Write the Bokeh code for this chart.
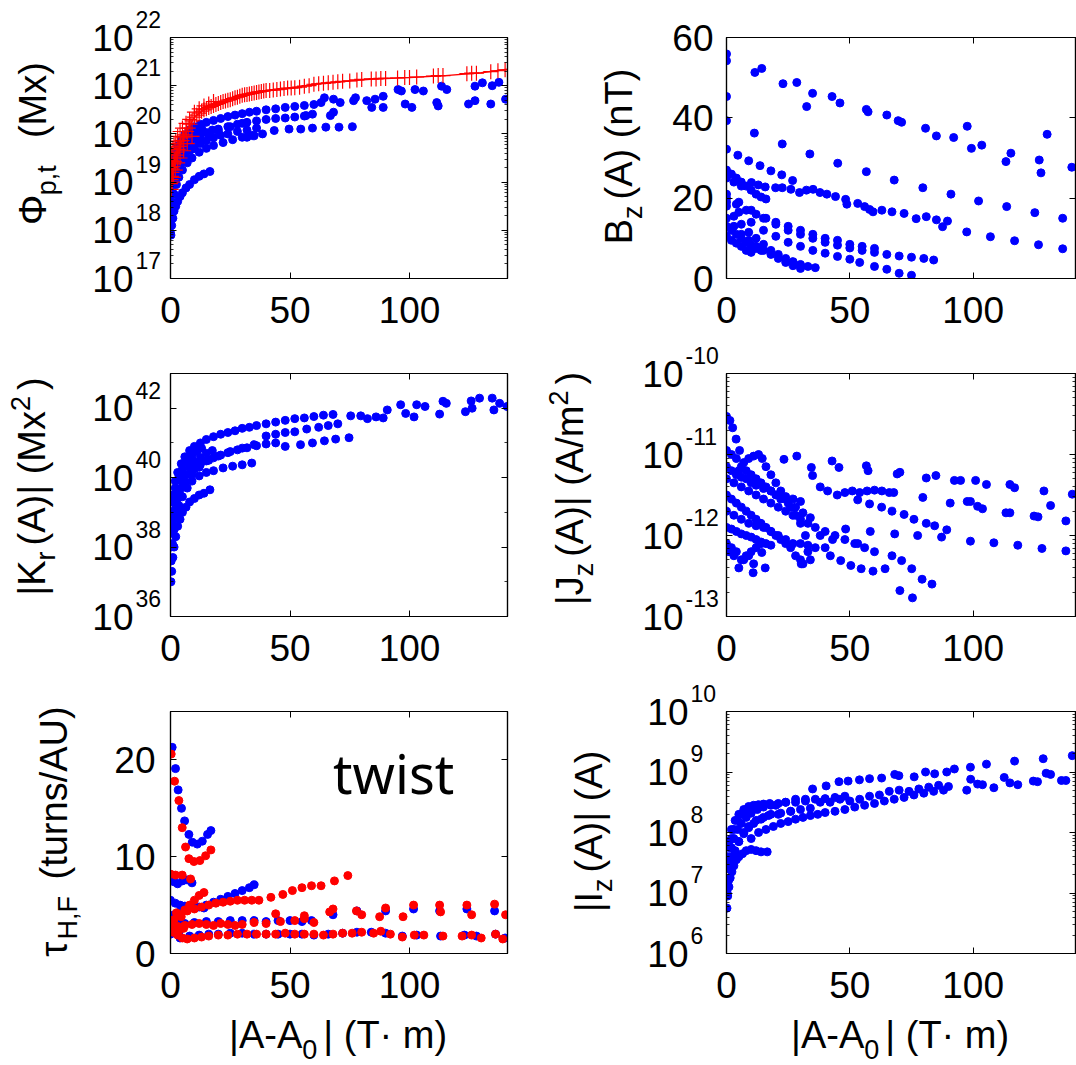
import math
from bokeh.plotting import figure
from bokeh.models import Range1d, FixedTicker, CustomJSTickFormatter, LinearAxis, LogAxis
from bokeh.layouts import column, row
from bokeh.embed import file_html
from bokeh.resources import INLINE
from bokeh.core.properties import value

# ======================= DATA =======================
x_ticks = [0, 50, 100]

# (a) Phi_{p,t} (Mx), stored as log10 values
phi_blue_x = ([0.2, 0.5, 1, 1.5, 2.2, 3, 4, 5, 6.5, 8, 10, 12, 14, 16.5]
              + [0.3, 0.8, 1.5, 2.5, 3.5, 5, 7, 9, 12, 15, 18, 22, 26, 30, 34]
              + [0.2, 0.7, 1.3, 2, 3, 4.5, 6, 8, 10, 12.5, 15, 18, 21, 24, 28, 32, 36]
              + [0.5, 1.2, 2, 3, 4.5, 6, 8, 10, 12.5, 15, 17.5]
              + [0.3, 1, 2, 3.5, 5, 7, 9, 11, 13]
              + [1, 2, 3, 4.5, 6, 8, 10, 12.5, 15, 18, 21, 24, 27, 30, 33, 36, 40, 44, 48, 52, 56, 60]
              + [20, 24, 28, 32, 36, 40, 44, 48, 52, 56]
              + [32, 35, 38.5, 43.4, 49.6, 54.5, 59.4, 65, 70.5, 76.1]
              + [56.7, 59.4, 63, 64.4, 66.9, 68.2, 68.2, 71, 76.6, 77.4, 82.1, 84.2, 85.6, 89, 89, 95.2, 96.6,
                 98.2, 101, 102.3, 105.8, 111.4, 112, 113.4, 115.6, 124.7, 127.4, 127.4, 130.5, 134, 134.6,
                 137.4, 140.2]
              + [0, 0, 0, 0, 0.1, 0.1]
              + [2, 4, 6, 9, 12, 16, 20, 25, 30])
phi_blue_log10 = ([17.9, 18.1, 18.25, 18.4, 18.5, 18.6, 18.7, 18.78, 18.88, 18.95, 19.05, 19.12, 19.17, 19.22]
                  + [18.3, 18.55, 18.75, 18.95, 19.1, 19.25, 19.4, 19.5, 19.62, 19.7, 19.76, 19.82, 19.88, 19.93, 19.97]
                  + [18.6, 18.85, 19.0, 19.15, 19.3, 19.45, 19.55, 19.65, 19.73, 19.8, 19.86, 19.92, 19.97, 20.0,
                     20.05, 20.08, 20.12]
                  + [18.95, 19.2, 19.35, 19.5, 19.62, 19.72, 19.82, 19.9, 19.97, 20.03, 20.08]
                  + [19.1, 19.35, 19.5, 19.65, 19.78, 19.9, 19.98, 20.05, 20.12]
                  + [19.4, 19.6, 19.75, 19.88, 19.98, 20.08, 20.15, 20.2, 20.24, 20.28, 20.32, 20.36, 20.39, 20.42,
                     20.45, 20.47, 20.5, 20.52, 20.55, 20.57, 20.59, 20.61]
                  + [20.1, 20.15, 20.2, 20.24, 20.27, 20.3, 20.32, 20.33, 20.35, 20.37]
                  + [19.93, 19.96, 20.0, 20.07, 20.1, 20.1, 20.12, 20.14, 20.14, 20.15]
                  + [20.38, 20.41, 20.65, 20.75, 20.38, 20.45, 20.72, 20.65, 20.69, 20.75, 20.69, 20.55, 20.72,
                     20.78, 20.55, 20.92, 20.89, 20.62, 20.55, 20.92, 20.89, 20.65, 20.58, 20.99, 20.92, 20.62,
                     20.69, 20.99, 21.06, 20.62, 21.0, 21.07, 20.72]
                  + [17.95, 18.2, 18.5, 18.8, 19.0, 19.3]
                  + [19.05, 19.35, 19.5, 19.68, 19.85, 19.98, 20.06, 20.15, 20.22])

phi_red_x = ([0, 0.2, 0.4, 0.6, 0.8, 1, 1.3, 1.6, 2, 2.4, 2.8, 3.2, 3.7, 4.2, 4.8, 5.4, 6, 6.7, 7.4, 8.2,
              9, 10, 11, 12, 13, 14, 15, 16, 17, 18, 19, 20, 21, 22, 23, 24, 25, 26, 27, 28, 29, 30, 31, 32,
              33, 34, 35, 36, 37, 38, 39, 40, 41.5, 43, 44.5, 46, 47.5, 49, 50.5, 52, 54, 56, 58, 60, 62, 64,
              66, 68, 70, 72, 75, 78, 80, 84, 86, 88, 90, 95, 98, 100, 103, 110, 112, 114, 124, 126, 128, 134,
              137, 140]
             + [0.1, 0.3, 0.5, 1, 1.5, 2.2, 3, 4, 5, 6.5, 8, 10, 12, 14, 16, 18]
             + [0.3, 0.7, 1.2, 2, 3, 4, 5.5, 7, 9])
phi_red_log10 = ([18.97, 19.05, 19.12, 19.2, 19.27, 19.32, 19.38, 19.43, 19.5, 19.56, 19.62, 19.68, 19.74, 19.8,
                  19.86, 19.92, 19.98, 20.05, 20.12, 20.2, 20.27, 20.35, 20.39, 20.43, 20.47, 20.5, 20.52, 20.55,
                  20.57, 20.59, 20.61, 20.63, 20.65, 20.67, 20.68, 20.7, 20.71, 20.73, 20.75, 20.76, 20.78, 20.8,
                  20.81, 20.82, 20.83, 20.84, 20.85, 20.86, 20.87, 20.88, 20.89, 20.9, 20.9, 20.91, 20.92, 20.93,
                  20.94, 20.95, 20.95, 20.96, 20.97, 20.99, 21.0, 21.03, 21.04, 21.05, 21.06, 21.07, 21.08, 21.09,
                  21.1, 21.12, 21.13, 21.14, 21.14, 21.15, 21.15, 21.16, 21.17, 21.17, 21.18, 21.2, 21.21, 21.21,
                  21.25, 21.26, 21.26, 21.29, 21.31, 21.33]
                 + [19.3, 19.45, 19.6, 19.7, 19.8, 19.85, 19.95, 20.05, 20.12, 20.22, 20.3, 20.45, 20.52, 20.58,
                    20.62, 20.67]
                 + [18.85, 19.0, 19.1, 19.25, 19.4, 19.5, 19.65, 19.8, 19.95])
phi_fit_x = [0, 1, 2, 3, 5, 7, 10, 14, 18, 24, 30, 40, 50, 60, 70, 85, 100, 115, 130, 141]
phi_fit_log10 = [18.97, 19.32, 19.5, 19.65, 19.88, 20.08, 20.35, 20.5, 20.59, 20.7, 20.8, 20.9, 20.95, 21.03,
                 21.08, 21.14, 21.17, 21.21, 21.27, 21.34]

# (b) B_z(A) (nT)
bz_x = ([11.5, 14.3, 22.9, 28.5, 34.9, 32.5, 42.8, 46, 56.7, 57.4, 65, 69.6, 71, 80.7, 85.1, 92.1, 97.6, 99.3,
         103.5, 113.3, 115.3, 126.8, 127.5, 130, 140]
        + [11.3, 22.6, 33.8, 45.1, 56.7, 68, 79.6, 91, 102.2, 113.6, 125, 136.3]
        + [97.4, 107, 116.8, 126.5, 136.3]
        + [0, 0, 0, 0, 0]
        + [4.6, 9, 13.6, 18, 22.4, 26.8]
        + [10.1, 12.9, 15.7, 19.9, 22.6, 26.1, 29.6, 32.4, 35.1, 37.9, 40.7, 44.2, 48.3, 48.8, 53.2, 56, 58,
           59.4, 63, 67.1, 72, 76.9, 81, 85.1, 87.6, 89.6]
        + [0, 2, 4, 6, 8, 10, 12, 14, 16]
        + [0, 4, 8, 12, 16, 20, 25, 30, 35, 40, 45, 50, 55, 60]
        + [0, 5, 10, 15, 20, 25, 30, 35, 40, 45, 50, 55, 60, 65, 70, 75, 80, 84]
        + [0, 5, 10, 15, 20, 25, 30, 35, 40, 45, 50, 54, 60, 65, 70, 75]
        + [0, 3, 6, 9, 12, 15, 18, 21, 24, 27, 30, 33, 36]
        + [0, 3, 6, 9, 12, 15, 18, 21, 24, 27, 30]
        + [0, 2, 4, 6, 8, 10, 12, 14]
        + [0, 2, 4, 6, 8, 10]
        + [0, 3, 6])
bz_y = ([51.3, 52.3, 48.5, 48.8, 46.1, 42.8, 45.3, 43.7, 42.1, 41.5, 40.7, 39.3, 38.9, 37.4, 35.5, 35.1, 37.9,
         32.4, 33.2, 29.1, 31.2, 29.5, 26.3, 35.9, 27.7]
        + [36.2, 33.5, 31.0, 28.7, 26.6, 24.5, 22.6, 21.0, 19.3, 17.9, 16.4, 15.0]
        + [11.6, 10.4, 9.4, 8.4, 7.4]
        + [55.9, 54.2, 45.3, 39.3, 32.2]
        + [30.7, 29.3, 28.1, 26.8, 25.8, 24.4]
        + [23.9, 23.3, 22.8, 22.6, 22.6, 22.2, 21.4, 22.0, 22.2, 21.4, 21.0, 20.4, 19.7, 18.5, 18.7, 17.9, 17.2,
           16.6, 17.0, 16.6, 16.2, 14.9, 15.4, 14.6, 12.9, 14.3]
        + [27, 26, 25, 24, 23, 22, 21, 20.3, 19.8]
        + [20, 18.5, 17, 16, 15, 14, 13, 12, 11, 10, 9.5, 8.5, 8, 7.5]
        + [21, 19, 17, 15, 13.5, 12, 11, 10, 9, 8.3, 7.6, 7, 6.5, 6, 5.6, 5.3, 5, 4.6]
        + [19, 16.5, 14, 12, 10.5, 9, 8, 7, 6.3, 5.5, 4.8, 4.0, 3.0, 2.3, 1.3, 0.8]
        + [18, 15.5, 13.5, 11.5, 10, 8.5, 7, 6, 5, 4.2, 3.5, 3, 2.7]
        + [15, 13, 11, 9.5, 8, 7, 6, 5, 4, 3.2, 2.5]
        + [13, 12, 11, 10, 9, 8.3, 7.5, 7]
        + [10.5, 9.5, 8.8, 8, 7, 6.5]
        + [25, 24, 23])

# (c) |K_r(A)| (Mx^2), log10 values
kr_x = ([0.2, 0.5, 1, 1.5, 2.2, 3, 4, 5, 6.5, 8, 10, 12, 14, 16.5]
        + [0.3, 0.8, 1.5, 2.5, 3.5, 5, 7, 9, 12, 15, 18, 22, 26, 30, 34]
        + [0.2, 0.7, 1.3, 2, 3, 4.5, 6, 8, 10, 12.5, 15, 18, 21, 24, 28, 32, 36, 40, 44, 48]
        + [0.5, 1.2, 2, 3, 4.5, 6, 8, 10, 12.5, 15, 17.5]
        + [0.3, 1, 2, 3.5, 5, 7, 9, 11, 13]
        + [1, 2, 3, 4.5, 6, 8, 10, 12.5, 15, 18, 21, 24, 27, 30, 33, 36, 40, 44, 48, 52, 56, 60, 64, 68]
        + [54.4, 59.4, 64.4, 69.1, 74.7]
        + [40, 44, 48, 52, 57, 62, 66, 70]
        + [75.4, 79.6, 82.4, 86, 89, 90.7, 96.3, 98.4, 101.9, 103, 106.5, 112.6, 114, 115.4, 123.4, 125.8,
           126.2, 129.3, 134.6, 135.3, 137.7, 140.8]
        + [2, 4, 6, 9, 12, 16, 20, 25, 30, 35])
kr_log10 = ([37.0, 37.3, 37.7, 38.0, 38.3, 38.6, 38.8, 39.0, 39.15, 39.3, 39.4, 39.5, 39.55, 39.65]
            + [37.6, 38.1, 38.5, 38.9, 39.2, 39.45, 39.7, 39.9, 40.05, 40.15, 40.2, 40.28, 40.33, 40.37, 40.42]
            + [38.0, 38.4, 38.8, 39.1, 39.4, 39.7, 39.9, 40.1, 40.25, 40.38, 40.48, 40.57, 40.65, 40.72, 40.8,
               40.86, 40.92, 40.97, 41.0, 40.9]
            + [38.6, 39.0, 39.3, 39.6, 39.9, 40.1, 40.3, 40.45, 40.58, 40.7, 40.78]
            + [38.8, 39.3, 39.7, 40.0, 40.25, 40.45, 40.62, 40.75, 40.85]
            + [39.5, 39.9, 40.15, 40.4, 40.6, 40.78, 40.9, 41.0, 41.1, 41.18, 41.25, 41.3, 41.35, 41.42, 41.45,
               41.5, 41.55, 41.6, 41.65, 41.7, 41.72, 41.76, 41.8, 41.82]
            + [40.95, 41.0, 41.06, 41.11, 41.15]
            + [41.2, 41.25, 41.3, 41.32, 41.4, 41.45, 41.5, 41.55]
            + [41.78, 41.78, 41.7, 41.75, 41.72, 41.95, 42.1, 41.85, 41.75, 42.1, 42.05, 41.83, 42.2, 42.14, 41.9,
               42.21, 42.0, 42.29, 42.29, 41.95, 42.14, 42.05]
            + [39.0, 39.5, 39.8, 40.1, 40.3, 40.5, 40.62, 40.75, 40.85, 40.95])

# (d) |J_z(A)| (A/m^2), log10 values
jz_x = ([0, 1.4, 2.5, 3.9, 5.3]
        + [0, 2, 4, 6, 8, 10, 12, 14, 16, 18, 20, 22, 25, 28, 31, 34]
        + [5, 7, 9, 11, 13, 14.5, 16, 18, 20, 22, 24, 26, 28, 30, 32, 33, 34]
        + [0, 2, 4, 6, 8, 10, 12, 15, 18, 21, 24, 27, 30]
        + [0, 3, 6, 9, 12, 15, 18, 21, 24, 27, 30, 33, 36, 40, 44, 48, 52, 56, 60]
        + [0, 2, 4, 6, 8, 10, 12, 14, 16, 18, 20, 22, 24, 26, 28, 30, 31]
        + [0, 3, 6, 9, 12, 15, 18, 21, 24, 27, 30, 33, 36, 40]
        + [0, 2, 4, 6, 8, 10, 12, 14, 16, 18]
        + [0, 2, 4, 6, 8, 10, 12, 14]
        + [1, 3, 5, 7, 9, 11]
        + [10.8, 15.7, 14.3, 30.3]
        + [23.3, 28.5, 34.4, 34.9, 42.8, 45.6, 56.7, 57.4, 69.2, 70.3, 81, 84.9, 92.4, 94.9, 101, 105.4, 114.9,
           116.8, 128.7, 140.2]
        + [38, 41, 44.9, 48, 51, 54, 57, 60, 63, 66, 67.8]
        + [79.6, 90.7, 97.6, 98.9, 101.8, 103.8, 113.3, 114.9, 124.7, 126.3, 131.4, 137.6]
        + [53.2, 58, 62.9, 67.1, 72, 76, 81, 84.4, 89.3]
        + [58.3, 68.2, 77.5, 87.2]
        + [98.9, 108.4, 118.1, 127.9, 137.6]
        + [42.1, 46.3, 50.4, 54.6, 59.4, 64.3, 67.1, 71, 75.1, 79.3, 83.3, 70.3, 75.4]
        + [38, 43, 48.3, 53.2])
jz_log10 = ([-10.53, -10.58, -10.67, -10.81, -10.95]
            + [-10.95, -11.0, -11.05, -11.15, -11.2, -11.25, -11.3, -11.35, -11.4, -11.45, -11.5, -11.55, -11.6,
               -11.65, -11.72, -11.78]
            + [-11.2, -11.1, -11.05, -11.02, -11.0, -11.05, -11.15, -11.25, -11.35, -11.45, -11.55, -11.65,
               -11.75, -11.85, -12.0, -12.2, -12.3]
            + [-11.15, -11.2, -11.25, -11.28, -11.3, -11.35, -11.38, -11.42, -11.45, -11.5, -11.52, -11.55, -11.58]
            + [-11.3, -11.35, -11.4, -11.45, -11.5, -11.55, -11.6, -11.65, -11.7, -11.75, -11.8, -11.85, -11.9,
               -11.95, -12.0, -12.05, -12.1, -12.15, -12.2]
            + [-11.5, -11.55, -11.6, -11.65, -11.7, -11.75, -11.8, -11.85, -11.9, -11.95, -12.0, -12.05, -12.1,
               -12.15, -12.25, -12.3, -12.35]
            + [-11.7, -11.75, -11.8, -11.85, -11.88, -11.9, -11.95, -12.0, -12.05, -12.1, -12.1, -12.12, -12.15,
               -12.15]
            + [-11.9, -11.92, -11.95, -11.98, -12.0, -12.02, -12.05, -12.08, -12.1, -12.12]
            + [-12.1, -12.15, -12.2, -12.3, -12.25, -12.2, -12.15, -12.1]
            + [-12.2, -12.25, -12.4, -12.3, -12.25, -12.35]
            + [-12.46, -12.4, -12.21, -12.35]
            + [-11.06, -11.02, -11.16, -11.26, -11.08, -11.16, -11.14, -11.2, -11.24, -11.22, -11.29, -11.26,
               -11.32, -11.32, -11.32, -11.37, -11.37, -11.41, -11.45, -11.49]
            + [-11.4, -11.45, -11.5, -11.47, -11.45, -11.47, -11.45, -11.44, -11.45, -11.47, -11.47]
            + [-11.53, -11.6, -11.58, -11.58, -11.64, -11.67, -11.72, -11.72, -11.76, -11.77, -11.63, -11.82]
            + [-11.56, -11.61, -11.65, -11.7, -11.74, -11.8, -11.85, -11.88, -11.93]
            + [-11.95, -11.98, -12.0, -12.02]
            + [-12.07, -12.09, -12.12, -12.16, -12.19]
            + [-12.25, -12.31, -12.37, -12.41, -12.44, -12.41, -12.25, -12.31, -12.41, -12.54, -12.6, -12.68, -12.77]
            + [-12.0, -12.05, -11.92, -12.1])

# (e) twist tau_{H,F} (turns/AU): blue and red series
tau_blue_x = ([0.7, 2.1, 3.2, 4.6, 5.9, 7.7, 9.1, 11.2, 13.3, 15.5, 16.9]
              + [0.3, 1.5, 3, 5, 7, 9]
              + [15, 18, 21, 24, 27, 30, 33, 35]
              + [0, 3, 6, 10, 15, 20, 25, 30, 35, 40, 45, 50, 55, 59]
              + [0, 2, 4, 6, 8, 10, 12, 14]
              + [0, 4, 8, 12, 16, 20, 25, 30, 35, 40, 45, 50, 55, 60, 66, 72, 78, 84, 90, 97, 103, 113, 123,
                 128, 136, 140]
              + [68, 78, 90, 101.7, 112.6, 124, 135.6]
              + [0.5, 1.5, 2.5, 3.5, 4.5])
tau_blue_y = ([21.3, 19.1, 16.9, 15.0, 13.7, 12.3, 11.5, 11.3, 11.6, 12.3, 12.7]
              + [7.7, 7.4, 7.2, 7.5, 7.6, 7.3]
              + [5.0, 5.3, 5.6, 5.9, 6.2, 6.5, 6.8, 7.1]
              + [3.3, 3.2, 3.1, 3.2, 3.3, 3.3, 3.4, 3.4, 3.4, 3.3, 3.4, 3.4, 3.3, 3.4]
              + [5.5, 5.2, 5.0, 4.9, 4.9, 4.7, 4.8, 4.7]
              + [2.0, 1.6, 1.8, 1.9, 2.0, 2.0, 2.1, 2.1, 2.0, 2.0, 2.0, 2.0, 2.0, 1.9, 2.0, 2.1, 2.2, 2.2, 2.1,
                 1.8, 1.9, 1.8, 1.9, 1.8, 2.0, 1.6]
              + [4.0, 4.4, 4.4, 4.6, 4.4, 4.6, 4.4]
              + [2.6, 4.0, 3.6, 2.2, 4.4])
tau_red_x = ([0.3, 1.7, 3.5, 4.9, 6.3, 7.7, 9.8, 12.3, 14.7, 16.9]
             + [0, 2.1, 4.9, 8.4]
             + [37, 42, 47, 51, 55, 59, 63, 68.6, 74.2]
             + [7, 10, 13, 16, 19, 22, 25, 28, 31, 34]
             + [4, 6, 8, 10, 12, 14]
             + [0, 3, 6, 9, 12, 15, 18, 21, 24, 27, 30, 35, 40, 46, 52, 56, 60]
             + [1, 3, 5, 7, 10, 13, 16, 20, 24, 28, 32, 36, 40, 44, 48, 52, 56, 60, 64, 68, 72, 76, 80, 85, 88,
                92, 97, 102, 106, 114, 122, 126, 130, 136, 139]
             + [44, 56, 66.6, 68, 77.8, 80, 87.5, 90, 97.3, 101.7, 112.6, 113, 124, 126, 135.6, 140.2]
             + [0.5, 1.5, 2.5, 3.5, 4.5, 5.5])
tau_red_y = ([20.6, 17.8, 15.8, 13.0, 11.0, 9.8, 9.5, 9.6, 10.1, 10.7]
             + [8.2, 8.1, 8.1, 7.7]
             + [5.5, 5.8, 6.1, 6.5, 6.8, 7.0, 7.0, 7.5, 8.05]
             + [4.4, 4.6, 4.8, 5.0, 5.2, 5.3, 5.4, 5.5, 5.5, 5.5]
             + [4.0, 4.5, 5.0, 5.5, 6.0, 6.3]
             + [3.0, 2.8, 2.9, 3.0, 3.1, 3.0, 2.9, 3.1, 3.0, 2.9, 3.0, 3.2, 3.1, 3.3, 3.4, 3.6, 3.2]
             + [2.2, 1.9, 1.6, 1.5, 1.6, 1.7, 1.8, 1.9, 1.9, 2.0, 2.0, 2.0, 2.0, 2.0, 2.1, 2.0, 2.0, 2.0, 1.9,
                2.0, 2.1, 2.1, 2.2, 2.1, 2.3, 2.0, 1.7, 1.9, 1.9, 1.8, 1.8, 1.9, 1.6, 2.0, 1.5]
             + [4.1, 3.9, 4.3, 4.6, 4.4, 4.0, 3.8, 4.7, 3.8, 5.0, 5.0, 4.3, 5.0, 4.0, 5.1, 4.0]
             + [2.5, 3.5, 4.2, 2.4, 3.8, 2.6])

# (f) |I_z(A)| (A), log10 values
iz_x = ([0.2, 0.5, 1, 1.5, 2.2, 3, 4, 5, 6.5, 8, 10, 12, 14, 16.5]
        + [0.3, 0.8, 1.5, 2.5, 3.5, 5, 7, 9, 12, 15, 18, 22, 26, 30, 34]
        + [0.2, 0.7, 1.3, 2, 3, 4.5, 6, 8, 10, 12.5, 15, 18, 21, 24, 28, 32, 36, 40, 44, 48]
        + [0.5, 1.2, 2, 3, 4.5, 6, 8, 10, 12.5, 15, 17.5]
        + [0.3, 1, 2, 3.5, 5, 7, 9, 11, 13]
        + [10, 13, 16, 19, 22, 25, 28, 31, 34, 37, 40, 44, 48, 52, 56, 60, 64, 68, 72, 76, 80, 84, 88]
        + [34.9, 40.4, 45.6, 49.3, 53.9, 58, 62.9, 68.2, 69.9, 76.1, 80.7, 84.4, 89.3, 92.4, 98.9, 105.4, 116.8,
           128.4, 140.2]
        + [97.4, 99, 101.8, 103.8, 108.4, 112.6, 114.9, 118.1, 124.4, 126.1, 129.6, 131.4, 135.8, 137.6]
        + [20, 24, 28, 32, 38, 42, 46, 50, 54, 58, 62, 66, 70, 74, 78, 82, 86, 90]
        + [1.5, 3, 5, 7, 9, 11, 14, 17, 21, 26])
iz_log10 = ([6.75, 6.95, 7.1, 7.25, 7.35, 7.45, 7.55, 7.6, 7.65, 7.7, 7.72, 7.7, 7.68, 7.68]
            + [7.0, 7.2, 7.4, 7.55, 7.7, 7.85, 8.0, 8.1, 8.2, 8.25, 8.3, 8.32, 8.35, 8.38, 8.4]
            + [7.2, 7.4, 7.6, 7.75, 7.9, 8.05, 8.15, 8.25, 8.32, 8.38, 8.42, 8.45, 8.48, 8.5, 8.5, 8.52, 8.55,
               8.56, 8.58, 8.6]
            + [7.5, 7.75, 7.9, 8.05, 8.2, 8.3, 8.38, 8.42, 8.45, 8.47, 8.48]
            + [7.6, 7.85, 8.05, 8.2, 8.3, 8.38, 8.43, 8.45, 8.46]
            + [7.9, 8.0, 8.05, 8.1, 8.15, 8.18, 8.22, 8.25, 8.28, 8.3, 8.33, 8.35, 8.38, 8.42, 8.45, 8.48, 8.52,
               8.55, 8.58, 8.62, 8.65, 8.68, 8.7]
            + [8.72, 8.77, 8.84, 8.85, 8.87, 8.89, 8.9, 8.96, 8.94, 8.92, 9.0, 8.97, 9.0, 9.05, 9.08, 9.13, 9.18,
               9.22, 9.27]
            + [8.70, 8.88, 8.8, 8.79, 8.74, 8.91, 8.82, 8.79, 8.85, 8.84, 8.98, 8.96, 8.86, 8.86]
            + [8.45, 8.5, 8.55, 8.55, 8.5, 8.5, 8.55, 8.52, 8.55, 8.6, 8.62, 8.68, 8.7, 8.68, 8.72, 8.75, 8.78,
               8.76]
            + [7.4, 7.62, 7.85, 7.98, 8.08, 8.15, 8.22, 8.28, 8.3, 8.35])

for a, b in [(phi_blue_x, phi_blue_log10), (phi_red_x, phi_red_log10), (phi_fit_x, phi_fit_log10),
             (bz_x, bz_y), (kr_x, kr_log10), (jz_x, jz_log10), (tau_blue_x, tau_blue_y),
             (tau_red_x, tau_red_y), (iz_x, iz_log10)]:
    assert len(a) == len(b), (len(a), len(b))

# ======================= STYLE =======================
FONT = "Liberation Sans"
TICK_FS = 37
LAB_FS = 38
SUB_FS = 27
EXP_FS = 23
BLUE = "#0000ff"
RED = "#ff0000"
DOT = 8
GAP = 6   # extra room after a sub/superscript, as TeX typesetting leaves

W = {' ': 278, '(': 333, ')': 333, '|': 260, ',': 278, '-': 333, '/': 278, '·': 300,
     'A': 667, 'B': 667, 'F': 611, 'H': 722, 'I': 278, 'J': 500, 'K': 667, 'M': 833, 'T': 611, 'U': 722,
     'm': 833, 'n': 556, 'p': 556, 'r': 333, 's': 500, 't': 278, 'u': 556, 'x': 500, 'z': 500,
     'Φ': 780, 'τ': 450}


def text_w(s, fs):
    return sum(W.get(c, 556) for c in s) / 1000.0 * fs


def fs_of(kind):
    return LAB_FS if kind == 'n' else SUB_FS


def piece_len(t, k):
    return text_w(t, fs_of(k)) + (0 if k == 'n' else GAP)


def lg(vals):
    return [10.0 ** v for v in vals]


# page geometry (px): column frames and rows
COLS = [dict(x0=0, width=540, fl=170, mbr=33, x_end=141.0),
        dict(x0=540, width=536, fl=726, mbr=1, x_end=141.5)]
ROWS = [dict(y0=0, height=340, mbt=37, fb=278),
        dict(y0=340, height=340, mbt=33, fb=616),
        dict(y0=680, height=385, mbt=31, fb=953)]

BLANK = CustomJSTickFormatter(code="return '';")


def style_axis(ax, ticks, minor, labels=True, standoff=10, formatter=None):
    ax.ticker = FixedTicker(ticks=ticks, minor_ticks=minor)
    ax.axis_line_color = "black"
    ax.axis_line_width = 1.2
    ax.major_tick_in = 6
    ax.major_tick_out = 0
    ax.minor_tick_in = 3
    ax.minor_tick_out = 0
    ax.major_tick_line_color = "black"
    ax.major_tick_line_width = 1
    ax.minor_tick_line_color = "black" if minor else None
    ax.minor_tick_line_width = 0.8
    ax.major_label_text_font = FONT
    ax.major_label_text_color = "black"
    if labels:
        ax.major_label_text_font_size = f"{TICK_FS}px"
        ax.major_label_standoff = standoff
        if formatter is not None:
            ax.formatter = formatter
    else:
        ax.major_label_text_font_size = "2px"
        ax.major_label_standoff = 0
        ax.formatter = BLANK


def panel(ci, ri, y0, y1, log, yticks, yminor, ystandoff):
    c, r = COLS[ci], ROWS[ri]
    frame_h = r['fb'] - (r['y0'] + r['mbt'])
    p = figure(width=c['width'], height=r['height'],
               x_range=Range1d(0, c['x_end']), y_range=Range1d(y0, y1),
               y_axis_type=("log" if log else "linear"),
               output_backend="svg", toolbar_location=None,
               min_border_left=c['fl'] - c['x0'], min_border_right=c['mbr'],
               min_border_top=r['mbt'], min_border_bottom=r['height'] - r['mbt'] - frame_h)
    p.grid.visible = False
    p.outline_line_color = "black"
    p.outline_line_width = 1.2
    p.outline_line_alpha = 1.0
    p.background_fill_color = "white"
    p.border_fill_color = "white"
    fmt = CustomJSTickFormatter(code="return '10';") if log else None
    style_axis(p.xaxis[0], x_ticks, [], True, 18)
    style_axis(p.yaxis[0], yticks, yminor, True, ystandoff, fmt)
    top = LinearAxis()
    p.add_layout(top, "above")
    style_axis(top, x_ticks, [], False)
    right = LogAxis() if log else LinearAxis()
    p.add_layout(right, "right")
    style_axis(right, yticks, yminor, False)
    return p, (c['fl'], r['fb'], y0)


def put_text(p, x, y, txt, xo, yo, fs, angle=0.0, font=FONT, mid=0.35):
    """Text glyph on the overlay level (may sit outside the frame).
    xo/yo give the wanted baseline start in px (yo positive = down); the text is
    drawn with a 'middle' baseline, so it is moved up by mid*fs (left when rotated)."""
    if angle == 0.0:
        yo = yo - mid * fs
    else:
        xo = xo - mid * fs
    p.text(x=[x], y=[y], text=[txt], x_offset=xo, y_offset=yo, angle=angle,
           text_font=value(font), text_font_size=value(f"{fs}px"), text_color="black",
           text_align="left", text_baseline="middle", level="overlay")


def exponents(p, ticks, exps, x_off):
    for t, e in zip(ticks, exps):
        put_text(p, 0, t, e, x_off, -10, EXP_FS)


SHIFT_Y = {'n': 0, 'sub': 10, 'sup': -16}


def ylabel(p, geo, pieces, base_x, center_y):
    fl, fb, y0 = geo
    total = sum(piece_len(t, k) for t, k in pieces)
    pos = (fb - center_y) - total / 2.0          # px above the frame bottom
    for t, k in pieces:
        fs = fs_of(k)
        s = t.lstrip(' ')
        lead = text_w(t[:len(t) - len(s)], fs)
        put_text(p, 0, y0, s, base_x - fl + SHIFT_Y[k], -(pos + lead), fs, angle=math.pi / 2)
        pos += piece_len(t, k)


def xlabel(p, geo, pieces, center_x, base_y):
    fl, fb, y0 = geo
    total = sum(piece_len(t, k) for t, k in pieces)
    pos = (center_x - fl) - total / 2.0
    for t, k in pieces:
        fs = fs_of(k)
        dy = 10 if k == 'sub' else (-16 if k == 'sup' else 0)
        s = t.lstrip(' ')
        lead = text_w(t[:len(t) - len(s)], fs)
        put_text(p, 0, y0, s, pos + lead, (base_y - fb) + dy, fs)
        pos += piece_len(t, k)


def decade_minor(lo, hi):
    return [m * 10.0 ** k for k in range(lo, hi) for m in range(2, 10)]


# ---------- (a) Phi ----------
phi_ticks = [1e17, 1e18, 1e19, 1e20, 1e21, 1e22]
pa, ga = panel(0, 0, 1e17, 1e22, True, phi_ticks, decade_minor(17, 22), 37)
pa.scatter(phi_blue_x, lg(phi_blue_log10), size=DOT, marker="circle", fill_color=BLUE, line_color=BLUE)
pa.line(phi_fit_x, lg(phi_fit_log10), line_color=RED, line_width=1.4)
pa.scatter(phi_red_x, lg(phi_red_log10), size=15, marker="cross", line_color=RED, line_width=1.2)
exponents(pa, phi_ticks, ["17", "18", "19", "20", "21", "22"], -35)
ylabel(pa, ga, [("Φ", 'n'), ("p,t", 'sub'), ("  (Mx)", 'n')], 46, 143)

# ---------- (b) Bz ----------
pb, gb = panel(1, 0, 0, 60, False, [0, 20, 40, 60], [], 13)
pb.scatter(bz_x, bz_y, size=DOT, marker="circle", fill_color=BLUE, line_color=BLUE)
ylabel(pb, gb, [("B", 'n'), ("z", 'sub'), ("(A) (nT)", 'n')], 632, 156)

# ---------- (c) Kr ----------
kr_ticks = [1e36, 1e38, 1e40, 1e42]
pc, gc = panel(0, 1, 1e36, 1e43, True, kr_ticks, [1e37, 1e39, 1e41], 37)
pc.scatter(kr_x, lg(kr_log10), size=DOT, marker="circle", fill_color=BLUE, line_color=BLUE)
exponents(pc, kr_ticks, ["36", "38", "40", "42"], -35)
ylabel(pc, gc, [("|K", 'n'), ("r", 'sub'), ("(A)| (Mx", 'n'), ("2", 'sup'), (")", 'n')], 45, 486)

# ---------- (d) Jz ----------
jz_ticks = [1e-13, 1e-12, 1e-11, 1e-10]
pdd, gd = panel(1, 1, 1e-13, 1e-10, True, jz_ticks, decade_minor(-13, -10), 43)
pdd.scatter(jz_x, lg(jz_log10), size=DOT, marker="circle", fill_color=BLUE, line_color=BLUE)
exponents(pdd, jz_ticks, ["-13", "-12", "-11", "-10"], -41)
ylabel(pdd, gd, [("|J", 'n'), ("z", 'sub'), ("(A)| (A/m", 'n'), ("2", 'sup'), (")", 'n')], 583, 488)

# ---------- (e) twist ----------
pe, ge = panel(0, 2, 0, 25, False, [0, 10, 20], [], 15)
pe.scatter(tau_blue_x, tau_blue_y, size=DOT, marker="circle", fill_color=BLUE, line_color=BLUE)
pe.scatter(tau_red_x, tau_red_y, size=DOT, marker="circle", fill_color=RED, line_color=RED)
put_text(pe, 68, 16.5, "twist", 0, 0, 54, font="Noto Sans", mid=0.39)
ylabel(pe, ge, [("τ", 'n'), ("H,F", 'sub'), (" (turns/AU)", 'n')], 67, 831)
xlabel(pe, ge, [("|A-A", 'n'), ("0", 'sub'), ("| (T· m)", 'n')], 337, 1048)

# ---------- (f) Iz ----------
iz_ticks = [1e6, 1e7, 1e8, 1e9, 1e10]
pf, gf = panel(1, 2, 1e6, 1e10, True, iz_ticks, decade_minor(6, 10), 38)
pf.scatter(iz_x, lg(iz_log10), size=DOT, marker="circle", fill_color=BLUE, line_color=BLUE)
exponents(pf, iz_ticks, ["6", "7", "8", "9", "10"], -36)
ylabel(pf, gf, [("|I", 'n'), ("z", 'sub'), ("(A)| (A)", 'n')], 602, 831)
xlabel(pf, gf, [("|A-A", 'n'), ("0", 'sub'), ("| (T· m)", 'n')], 899, 1048)

layout = column(row(pa, pb), row(pc, pdd), row(pe, pf))
open("out.html", "w").write(file_html(layout, INLINE, title="flux rope parameters"))
